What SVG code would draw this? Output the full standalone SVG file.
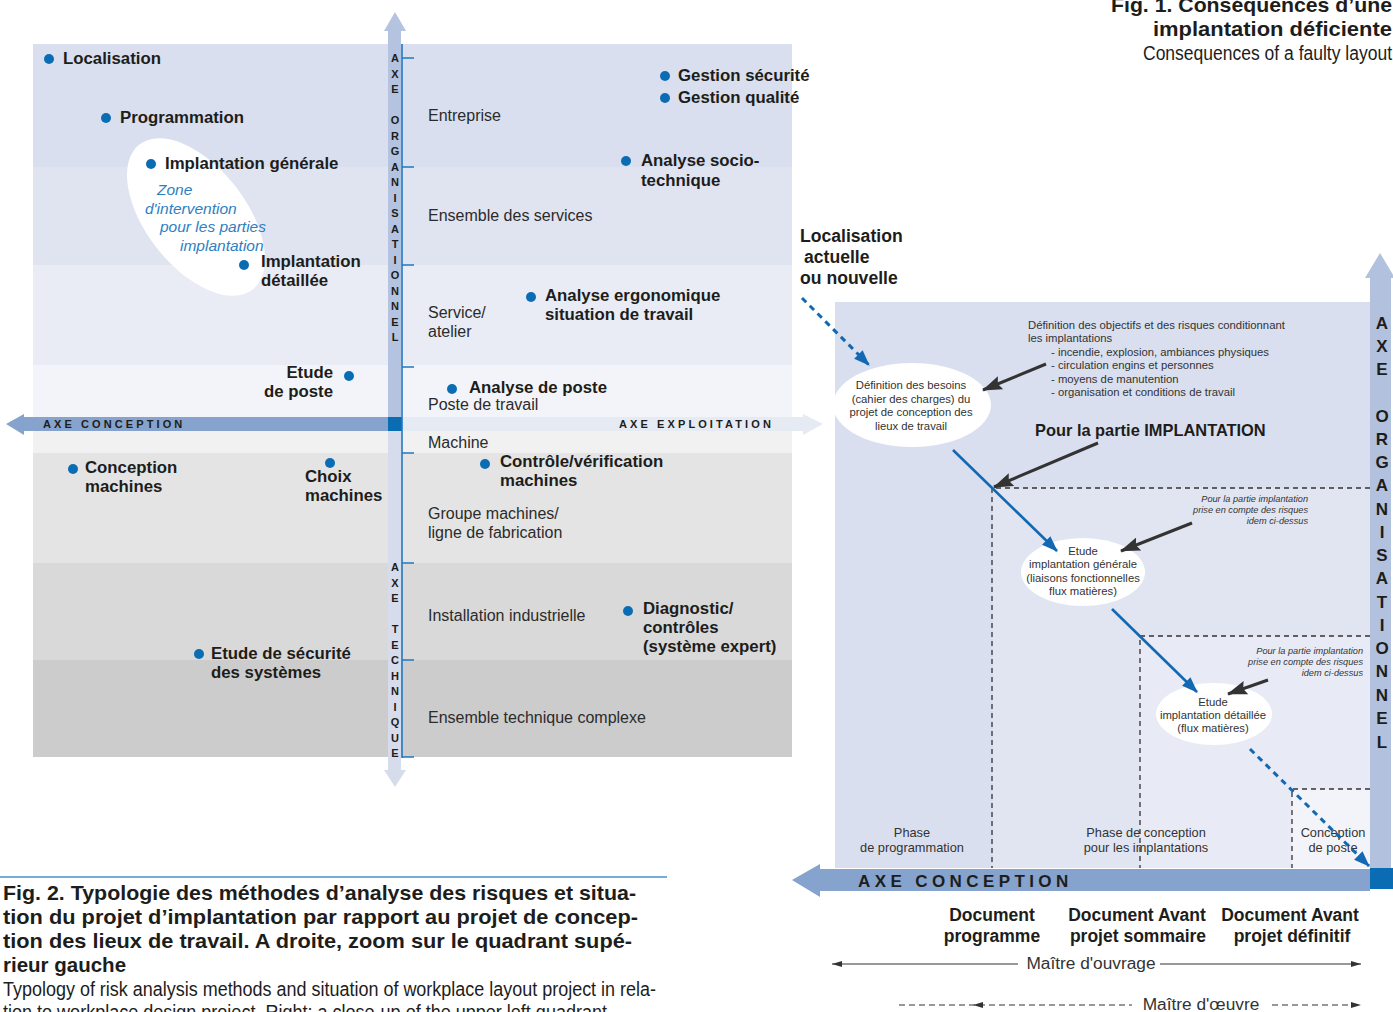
<svg xmlns="http://www.w3.org/2000/svg" width="1393" height="1012" viewBox="0 0 1393 1012">
  <style>
    text { font-family: "Liberation Sans", Arial, sans-serif; }
    .lbl { font-weight: bold; font-size: 16.8px; fill: #1d1d1b; }
    .reg { font-size: 16px; fill: #2b2b2b; }
    .zone { font-style: italic; font-size: 15.5px; fill: #2e80c2; }
    .dot { fill: #0a6db4; }
    .axl { font-weight: bold; font-size: 11px; fill: #1d1d1b; text-anchor: middle; }
    .axh { font-weight: bold; font-size: 11px; fill: #1d1d1b; letter-spacing: 3.1px; }
    .axr { font-weight: bold; font-size: 17px; fill: #1d1d1b; text-anchor: middle; }
    .sm { font-size: 11.3px; fill: #333; }
    .smc { font-size: 11.3px; fill: #333; text-anchor: middle; }
    .it { font-style: italic; font-size: 9.2px; fill: #333; text-anchor: end; }
    .ph { font-size: 12.8px; fill: #333; text-anchor: middle; }
    .doc { font-weight: bold; font-size: 17.5px; fill: #1d1d1b; text-anchor: middle; }
    .mo { font-size: 17.3px; fill: #333; text-anchor: middle; }
    .dash { stroke: #333; stroke-width: 1.3; stroke-dasharray: 5 4; fill: none; }
    .tick { stroke: #1f78c1; stroke-width: 1.5; }
    .cap { font-weight: bold; font-size: 20.5px; fill: #1d1d1b; }
    .capen { font-size: 20px; fill: #1d1d1b; }
  </style>
  <defs>
    <marker id="ahDark" viewBox="0 0 20 14" refX="19" refY="7" markerWidth="20" markerHeight="14" markerUnits="userSpaceOnUse" orient="auto">
      <path d="M0,0 L20,7 L0,14 L3,7 z" fill="#333"/>
    </marker>
    <marker id="ahBlue" viewBox="0 0 16 12" refX="15" refY="6" markerWidth="16" markerHeight="12" markerUnits="userSpaceOnUse" orient="auto">
      <path d="M0,0 L16,6 L0,12 z" fill="#1268b3"/>
    </marker>
    <marker id="ahThin" viewBox="0 0 10 6" refX="10" refY="3" markerWidth="10" markerHeight="6" markerUnits="userSpaceOnUse" orient="auto">
      <path d="M0,0 L10,3 L0,6 z" fill="#333"/>
    </marker>
  </defs>

  <!-- ===== Fig. 2 : typology quadrants ===== -->
  <g id="bands">
    <rect x="33" y="44" width="759" height="123" fill="#d9dfee"/>
    <rect x="33" y="167" width="759" height="98" fill="#e0e4f0"/>
    <rect x="33" y="265" width="759" height="100" fill="#e9ecf5"/>
    <rect x="33" y="365" width="759" height="52" fill="#f3f4f9"/>
    <rect x="33" y="431" width="759" height="22" fill="#f1f1f1"/>
    <rect x="33" y="453" width="759" height="110" fill="#e4e4e4"/>
    <rect x="33" y="563" width="759" height="97" fill="#d9d9d9"/>
    <rect x="33" y="660" width="759" height="97" fill="#cccccc"/>
  </g>

  <!-- zone of the layout parts -->
  <g id="zone-implantation">
    <ellipse cx="196" cy="217" rx="92" ry="50" transform="rotate(52 196 217)" fill="#ffffff"/>
    <text class="zone" x="157" y="195">Zone</text>
    <text class="zone" x="145" y="214">d'intervention</text>
    <text class="zone" x="160" y="232">pour les parties</text>
    <text class="zone" x="180" y="251">implantation</text>
  </g>

  <!-- axes -->
  <g id="axes">
    <!-- exploitation (right) -->
    <rect x="402" y="417" width="403" height="14" fill="#e6eaf3"/>
    <polygon points="803,414 823,424 803,435" fill="#e6eaf3"/>
    <text class="axh" x="619" y="428">AXE EXPLOITATION</text>
    <!-- conception (left) -->
    <rect x="24" y="417" width="364" height="14" fill="#85a3cd"/>
    <polygon points="6,424 24,414 24,435" fill="#85a3cd"/>
    <text class="axh" x="43" y="428">AXE CONCEPTION</text>
    <!-- organisation (up) -->
    <rect x="388" y="30" width="13" height="387" fill="#b4c3df"/>
    <polygon points="384,31 395,12 406,31" fill="#b4c3df"/>
    <!-- technique (down) -->
    <rect x="388" y="431" width="13" height="340" fill="#d6dcec"/>
    <polygon points="384,770 395,787 406,770" fill="#d6dcec"/>
    <rect x="388" y="417" width="14" height="14" fill="#0a6db4"/>
    <line x1="402" y1="44" x2="402" y2="758" stroke="#1f78c1" stroke-width="1.6"/>
    <line class="tick" x1="402" y1="58" x2="414" y2="58"/>
    <line class="tick" x1="402" y1="167" x2="414" y2="167"/>
    <line class="tick" x1="402" y1="265" x2="414" y2="265"/>
    <line class="tick" x1="402" y1="367" x2="414" y2="367"/>
    <line class="tick" x1="402" y1="453" x2="414" y2="453"/>
    <line class="tick" x1="402" y1="563" x2="414" y2="563"/>
    <line class="tick" x1="402" y1="660" x2="414" y2="660"/>
    <line class="tick" x1="402" y1="757" x2="414" y2="757"/>
    <g>
      <text class="axl" x="395" y="62">A</text>
      <text class="axl" x="395" y="77.5">X</text>
      <text class="axl" x="395" y="93">E</text>
      <text class="axl" x="395" y="124">O</text>
      <text class="axl" x="395" y="139.5">R</text>
      <text class="axl" x="395" y="155">G</text>
      <text class="axl" x="395" y="170.5">A</text>
      <text class="axl" x="395" y="186">N</text>
      <text class="axl" x="395" y="201.5">I</text>
      <text class="axl" x="395" y="217">S</text>
      <text class="axl" x="395" y="232.5">A</text>
      <text class="axl" x="395" y="248">T</text>
      <text class="axl" x="395" y="263.5">I</text>
      <text class="axl" x="395" y="279">O</text>
      <text class="axl" x="395" y="294.5">N</text>
      <text class="axl" x="395" y="310">N</text>
      <text class="axl" x="395" y="325.5">E</text>
      <text class="axl" x="395" y="341">L</text>
    </g>
    <g>
      <text class="axl" x="395" y="571">A</text>
      <text class="axl" x="395" y="586.5">X</text>
      <text class="axl" x="395" y="602">E</text>
      <text class="axl" x="395" y="633">T</text>
      <text class="axl" x="395" y="648.5">E</text>
      <text class="axl" x="395" y="664">C</text>
      <text class="axl" x="395" y="679.5">H</text>
      <text class="axl" x="395" y="695">N</text>
      <text class="axl" x="395" y="710.5">I</text>
      <text class="axl" x="395" y="726">Q</text>
      <text class="axl" x="395" y="741.5">U</text>
      <text class="axl" x="395" y="757">E</text>
    </g>
  </g>

  <!-- scale levels -->
  <g id="levels">
    <text class="reg" x="428" y="121">Entreprise</text>
    <text class="reg" x="428" y="221">Ensemble des services</text>
    <text class="reg" x="428" y="318">Service/</text>
    <text class="reg" x="428" y="337">atelier</text>
    <text class="reg" x="428" y="410">Poste de travail</text>
    <text class="reg" x="428" y="448">Machine</text>
    <text class="reg" x="428" y="519">Groupe machines/</text>
    <text class="reg" x="428" y="538">ligne de fabrication</text>
    <text class="reg" x="428" y="621">Installation industrielle</text>
    <text class="reg" x="428" y="723">Ensemble technique complexe</text>
  </g>

  <!-- analysis methods -->
  <g id="m-localisation"><circle class="dot" cx="49" cy="59" r="5"/><text class="lbl" x="63" y="64">Localisation</text></g>
  <g id="m-programmation"><circle class="dot" cx="106" cy="118" r="5"/><text class="lbl" x="120" y="123">Programmation</text></g>
  <g id="m-implantation-generale"><circle class="dot" cx="151" cy="164" r="5"/><text class="lbl" x="165" y="169">Implantation générale</text></g>
  <g id="m-implantation-detaillee"><circle class="dot" cx="244" cy="265" r="5"/><text class="lbl" x="261" y="267">Implantation</text><text class="lbl" x="261" y="286">détaillée</text></g>
  <g id="m-etude-poste"><circle class="dot" cx="349" cy="376" r="5"/><text class="lbl" x="333" y="378" text-anchor="end">Etude</text><text class="lbl" x="333" y="397" text-anchor="end">de poste</text></g>
  <g id="m-conception-machines"><circle class="dot" cx="73" cy="469" r="5"/><text class="lbl" x="85" y="473">Conception</text><text class="lbl" x="85" y="492">machines</text></g>
  <g id="m-choix-machines"><circle class="dot" cx="330" cy="463" r="5"/><text class="lbl" x="305" y="482">Choix</text><text class="lbl" x="305" y="501">machines</text></g>
  <g id="m-securite-systemes"><circle class="dot" cx="199" cy="654" r="5"/><text class="lbl" x="211" y="659">Etude de sécurité</text><text class="lbl" x="211" y="678">des systèmes</text></g>
  <g id="m-gestion-securite"><circle class="dot" cx="665" cy="76" r="5"/><text class="lbl" x="678" y="81">Gestion sécurité</text></g>
  <g id="m-gestion-qualite"><circle class="dot" cx="665" cy="98" r="5"/><text class="lbl" x="678" y="103">Gestion qualité</text></g>
  <g id="m-socio-technique"><circle class="dot" cx="626" cy="161" r="5"/><text class="lbl" x="641" y="166">Analyse socio-</text><text class="lbl" x="641" y="186">technique</text></g>
  <g id="m-ergonomique"><circle class="dot" cx="531" cy="297" r="5"/><text class="lbl" x="545" y="301">Analyse ergonomique</text><text class="lbl" x="545" y="320">situation de travail</text></g>
  <g id="m-analyse-poste"><circle class="dot" cx="452" cy="389" r="5"/><text class="lbl" x="469" y="393">Analyse de poste</text></g>
  <g id="m-controle-machines"><circle class="dot" cx="485" cy="464" r="5"/><text class="lbl" x="500" y="467">Contrôle/vérification</text><text class="lbl" x="500" y="486">machines</text></g>
  <g id="m-diagnostic"><circle class="dot" cx="628" cy="611" r="5"/><text class="lbl" x="643" y="614">Diagnostic/</text><text class="lbl" x="643" y="633">contrôles</text><text class="lbl" x="643" y="652">(système expert)</text></g>

  <!-- ===== Fig. 1 : upper-left quadrant close-up ===== -->
  <g id="zoom-background">
    <rect x="835" y="302" width="535" height="566" fill="#d9dfee"/>
    <rect x="993" y="488" width="377" height="380" fill="#e0e5f1"/>
    <rect x="1140" y="636" width="230" height="232" fill="#e8ebf5"/>
    <rect x="1292" y="789" width="78" height="79" fill="#f3f4f9"/>
    <path class="dash" d="M1370,488 H992 V868"/>
    <path class="dash" d="M1370,636 H1140 V868"/>
    <path class="dash" d="M1370,789 H1292 V868"/>
  </g>

  <g id="zoom-axes">
    <rect x="1370" y="276" width="21" height="592" fill="#b2c1dd"/>
    <polygon points="1365,278 1380,253 1395,278" fill="#b2c1dd"/>
    <rect x="820" y="869" width="550" height="22" fill="#85a3cd"/>
    <polygon points="792,880 820,864 820,897" fill="#85a3cd"/>
    <rect x="1370" y="868" width="23" height="21" fill="#0a6db4"/>
    <text class="axh" x="858" y="887" style="font-size:17px;letter-spacing:4.4px">AXE CONCEPTION</text>
    <g>
      <text class="axr" x="1382" y="329">A</text>
      <text class="axr" x="1382" y="352">X</text>
      <text class="axr" x="1382" y="375">E</text>
      <text class="axr" x="1382" y="422">O</text>
      <text class="axr" x="1382" y="445">R</text>
      <text class="axr" x="1382" y="468">G</text>
      <text class="axr" x="1382" y="491">A</text>
      <text class="axr" x="1382" y="515">N</text>
      <text class="axr" x="1382" y="538">I</text>
      <text class="axr" x="1382" y="561">S</text>
      <text class="axr" x="1382" y="584">A</text>
      <text class="axr" x="1382" y="608">T</text>
      <text class="axr" x="1382" y="631">I</text>
      <text class="axr" x="1382" y="654">O</text>
      <text class="axr" x="1382" y="677">N</text>
      <text class="axr" x="1382" y="701">N</text>
      <text class="axr" x="1382" y="724">E</text>
      <text class="axr" x="1382" y="748">L</text>
    </g>
  </g>

  <g id="title-fig1">
    <text x="1392" y="12" text-anchor="end" class="cap" style="font-size:21px" textLength="281" lengthAdjust="spacingAndGlyphs">Fig. 1. Conséquences d’une</text>
    <text x="1392" y="36" text-anchor="end" class="cap" style="font-size:21px" textLength="239" lengthAdjust="spacingAndGlyphs">implantation déficiente</text>
    <text x="1392" y="60" text-anchor="end" class="capen" textLength="249" lengthAdjust="spacingAndGlyphs">Consequences of a faulty layout</text>
  </g>

  <g id="n-localisation-actuelle">
    <text class="lbl" x="800" y="242" style="font-size:17.6px">Localisation</text>
    <text class="lbl" x="804" y="263" style="font-size:17.6px">actuelle</text>
    <text class="lbl" x="800" y="284" style="font-size:17.6px">ou nouvelle</text>
  </g>

  <g id="n-definition-besoins">
    <ellipse cx="912" cy="405" rx="79" ry="42" fill="#ffffff"/>
    <text class="smc" x="911" y="389">Définition des besoins</text>
    <text class="smc" x="911" y="403">(cahier des charges) du</text>
    <text class="smc" x="911" y="416">projet de conception des</text>
    <text class="smc" x="911" y="430">lieux de travail</text>
  </g>

  <g id="n-objectifs-risques">
    <text class="sm" x="1028" y="329">Définition des objectifs et des risques conditionnant</text>
    <text class="sm" x="1028" y="342">les implantations</text>
    <text class="sm" x="1051" y="356">- incendie, explosion, ambiances physiques</text>
    <text class="sm" x="1051" y="369">- circulation engins et personnes</text>
    <text class="sm" x="1051" y="383">- moyens de manutention</text>
    <text class="sm" x="1051" y="396">- organisation et conditions de travail</text>
  </g>

  <g id="n-partie-implantation">
    <text class="lbl" x="1035" y="436" style="font-size:16.4px">Pour la partie IMPLANTATION</text>
  </g>

  <g id="n-etude-generale">
    <ellipse cx="1083" cy="572" rx="62" ry="34" fill="#ffffff"/>
    <text class="smc" x="1083" y="555">Etude</text>
    <text class="smc" x="1083" y="568">implantation générale</text>
    <text class="smc" x="1083" y="582">(liaisons fonctionnelles</text>
    <text class="smc" x="1083" y="595">flux matières)</text>
  </g>

  <g id="n-risques-1">
    <text class="it" x="1308" y="502">Pour la partie implantation</text>
    <text class="it" x="1308" y="513">prise en compte des risques</text>
    <text class="it" x="1308" y="524">idem ci-dessus</text>
  </g>

  <g id="n-etude-detaillee">
    <ellipse cx="1214" cy="714" rx="58" ry="31" fill="#ffffff"/>
    <text class="smc" x="1213" y="706">Etude</text>
    <text class="smc" x="1213" y="719">implantation détaillée</text>
    <text class="smc" x="1213" y="732">(flux matières)</text>
  </g>

  <g id="n-risques-2">
    <text class="it" x="1363" y="654">Pour la partie implantation</text>
    <text class="it" x="1363" y="665">prise en compte des risques</text>
    <text class="it" x="1363" y="676">idem ci-dessus</text>
  </g>

  <g id="n-phases">
    <text class="ph" x="912" y="837">Phase</text>
    <text class="ph" x="912" y="852">de programmation</text>
    <text class="ph" x="1146" y="837">Phase de conception</text>
    <text class="ph" x="1146" y="852">pour les implantations</text>
    <text class="ph" x="1333" y="837">Conception</text>
    <text class="ph" x="1333" y="852">de poste</text>
  </g>

  <g id="n-documents">
    <text class="doc" x="992" y="921">Document</text>
    <text class="doc" x="992" y="942">programme</text>
    <text class="doc" x="1137" y="921">Document Avant</text>
    <text class="doc" x="1138" y="942">projet sommaire</text>
    <text class="doc" x="1290" y="921">Document Avant</text>
    <text class="doc" x="1292" y="942">projet définitif</text>
  </g>

  <g id="n-maitres">
    <text class="mo" x="1091" y="969">Maître d'ouvrage</text>
    <text class="mo" x="1201" y="1010">Maître d'œuvre</text>
  </g>

  <g id="connectors">
    <line x1="802" y1="298" x2="869" y2="365" stroke="#1268b3" stroke-width="3" stroke-dasharray="6 5" marker-end="url(#ahBlue)"/>
    <line x1="1046" y1="364" x2="983" y2="390" stroke="#333" stroke-width="3" marker-end="url(#ahDark)"/>
    <line x1="1098" y1="443" x2="994" y2="487" stroke="#333" stroke-width="3" marker-end="url(#ahDark)"/>
    <line x1="953" y1="450" x2="1057" y2="551" stroke="#1268b3" stroke-width="2.6" marker-end="url(#ahBlue)"/>
    <line x1="1192" y1="523" x2="1121" y2="551" stroke="#333" stroke-width="3" marker-end="url(#ahDark)"/>
    <line x1="1112" y1="609" x2="1197" y2="692" stroke="#1268b3" stroke-width="2.6" marker-end="url(#ahBlue)"/>
    <line x1="1268" y1="680" x2="1228" y2="694" stroke="#333" stroke-width="3" marker-end="url(#ahDark)"/>
    <line x1="1250" y1="749" x2="1369" y2="866" stroke="#1268b3" stroke-width="3" stroke-dasharray="6 5" marker-end="url(#ahBlue)"/>
    <!-- maitre d'ouvrage span -->
    <line x1="1018" y1="964" x2="832" y2="964" stroke="#333" stroke-width="1.2" marker-end="url(#ahThin)"/>
    <line x1="1160" y1="964" x2="1361" y2="964" stroke="#333" stroke-width="1.2" marker-end="url(#ahThin)"/>
    <!-- maitre d'oeuvre span -->
    <line x1="899" y1="1005" x2="1132" y2="1005" stroke="#333" stroke-width="1.2" stroke-dasharray="6 4"/>
    <polygon points="973,1005 983,1002 983,1008" fill="#333"/>
    <line x1="1272" y1="1005" x2="1352" y2="1005" stroke="#333" stroke-width="1.2" stroke-dasharray="6 4"/>
    <polygon points="1361,1005 1351,1002 1351,1008" fill="#333"/>
  </g>

  <!-- ===== caption of Fig. 2 ===== -->
  <g id="caption-fig2">
    <line x1="0" y1="877" x2="667" y2="877" stroke="#4a90c8" stroke-width="1.5"/>
    <text class="cap" x="3" y="900" textLength="633" lengthAdjust="spacingAndGlyphs">Fig. 2. Typologie des méthodes d’analyse des risques et situa-</text>
    <text class="cap" x="3" y="924" textLength="635" lengthAdjust="spacingAndGlyphs">tion du projet d’implantation par rapport au projet de concep-</text>
    <text class="cap" x="3" y="948" textLength="629" lengthAdjust="spacingAndGlyphs">tion des lieux de travail. A droite, zoom sur le quadrant supé-</text>
    <text class="cap" x="3" y="972">rieur gauche</text>
    <text class="capen" x="3" y="996" textLength="653" lengthAdjust="spacingAndGlyphs">Typology of risk analysis methods and situation of workplace layout project in rela-</text>
    <text class="capen" x="3" y="1019" textLength="604" lengthAdjust="spacingAndGlyphs">tion to workplace design project. Right: a close-up of the upper left quadrant</text>
  </g>
</svg>
